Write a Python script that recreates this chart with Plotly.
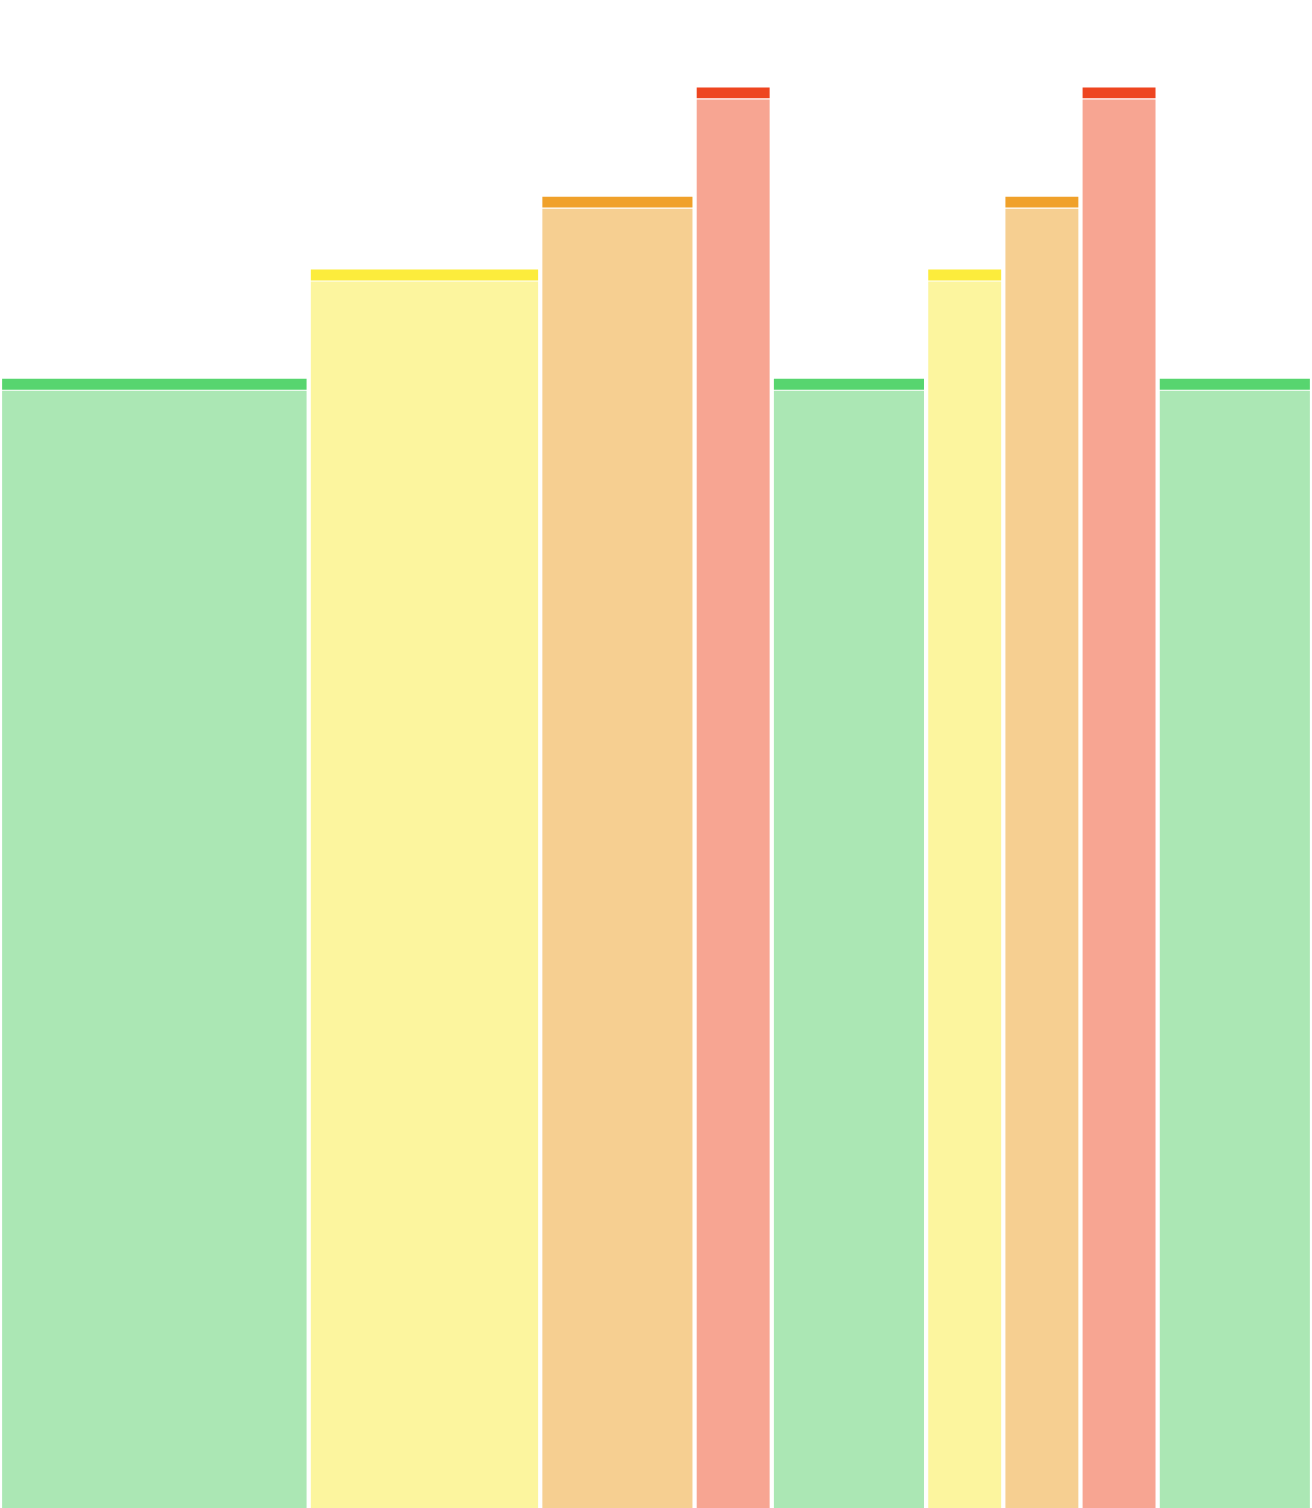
import numpy as np
import plotly.graph_objects as go

""" Data """
levels = ['low', 'medium', 'high', 'critical', 'low', 'medium', 'high', 'critical', 'low']
widths = [4, 3, 2, 1, 2, 1, 1, 1, 2]
values = [62, 68, 72, 78, 62, 68, 72, 78, 62]

# colours per level: (light fill, darker cap)
fill_colors = {'low': '#abe7b4', 'medium': '#fcf59e', 'high': '#f6cf91', 'critical': '#f7a592'}
cap_colors = {'low': '#57d56f', 'medium': '#fcec3c', 'high': '#f0a12a', 'critical': '#ee4520'}

cap_h = 0.6     # thickness of the top strip
sep = 0.06      # white line between strip and fill
gap = 0.055     # white gap between bars

""" Positions """
w = np.array(widths, dtype=float)
left = np.concatenate([[0], np.cumsum(w)[:-1]])
centers = left + w / 2
vals = np.array(values, dtype=float)

fig = go.Figure()
fig.add_trace(go.Bar(x=centers, y=vals - cap_h - sep, width=w - gap,
                     marker_color=[fill_colors[l] for l in levels],
                     marker_line_width=0, hoverinfo='skip'))
fig.add_trace(go.Bar(x=centers, y=[cap_h] * len(vals), base=vals - cap_h, width=w - gap,
                     marker_color=[cap_colors[l] for l in levels],
                     marker_line_width=0, hoverinfo='skip'))

fig.update_layout(width=1312, height=1508, margin=dict(l=0, r=0, t=0, b=0),
                  barmode='overlay', showlegend=False,
                  plot_bgcolor='white', paper_bgcolor='white',
                  xaxis=dict(range=[0, w.sum()], visible=False, fixedrange=True),
                  yaxis=dict(range=[0, 82.8], visible=False, fixedrange=True))
# drop the default page margin so the figure fills the window exactly
fig.write_html("out.html", config={'displayModeBar': False},
               post_script="document.body.style.margin='0';document.body.style.overflow='hidden';")
